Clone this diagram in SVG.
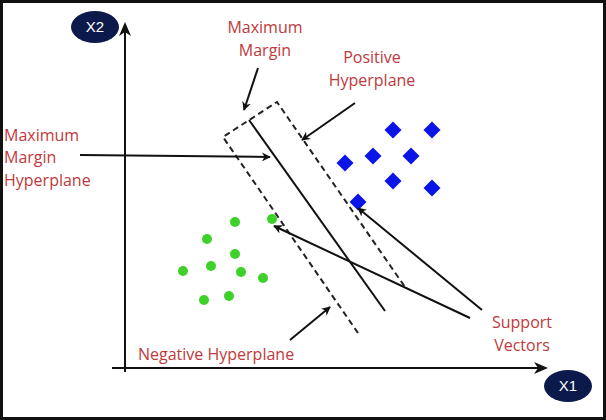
<svg xmlns="http://www.w3.org/2000/svg" width="606" height="420" viewBox="0 0 606 420">
<defs>
<marker id="ah" viewBox="0 0 10 10" refX="9" refY="5" markerWidth="9" markerHeight="9" markerUnits="userSpaceOnUse" orient="auto"><path d="M0,0 L10,5 L0,10 L3,5 z" fill="#111"/></marker>
<style>
.t{font-family:"Open Sans","Liberation Sans",sans-serif;font-size:16px;fill:#c0393b}
.a{stroke:#111;stroke-width:2;fill:none;marker-end:url(#ah)}
.d{stroke:#222;stroke-width:2;stroke-dasharray:6,4;fill:none}
.b{fill:#0a14e6}.g{fill:#3ed12a}
</style>
</defs>
<rect x="1.5" y="1.5" width="603" height="417" fill="#fff" stroke="#111" stroke-width="3"/>
<g id="axes">
<line x1="125" y1="372" x2="125" y2="25" class="a" style="marker-end:none"/>
<path d="M125,22 L119,36 L125,32 L131,36 z" fill="#111"/>
<line x1="112" y1="368" x2="545" y2="368" stroke="#111" stroke-width="2"/>
<path d="M548,368 L534,362 L538,368 L534,374 z" fill="#111"/>
</g>
<g id="x2"><ellipse cx="95" cy="27" rx="24" ry="16" fill="#0b1a4a"/><text x="95" y="32" text-anchor="middle" font-family="Liberation Sans,sans-serif" font-size="15" fill="#fff">X2</text></g>
<g id="x1"><ellipse cx="568" cy="386" rx="24" ry="16" fill="#0b1a4a"/><text x="568" y="391" text-anchor="middle" font-family="Liberation Sans,sans-serif" font-size="15" fill="#fff">X1</text></g>
<g id="margin">
<path class="d" d="M358,333 L223,137 L277,102 L405,287"/>
<line x1="249" y1="120" x2="385" y2="311" stroke="#111" stroke-width="2"/>
</g>
<g id="points">
<g class="b">
<rect x="-6" y="-6" width="12" height="12" transform="translate(393,130) rotate(45)"/>
<rect x="-6" y="-6" width="12" height="12" transform="translate(432,130) rotate(45)"/>
<rect x="-6" y="-6" width="12" height="12" transform="translate(373,156) rotate(45)"/>
<rect x="-6" y="-6" width="12" height="12" transform="translate(411,156) rotate(45)"/>
<rect x="-6" y="-6" width="12" height="12" transform="translate(345,163) rotate(45)"/>
<rect x="-6" y="-6" width="12" height="12" transform="translate(393,181) rotate(45)"/>
<rect x="-6" y="-6" width="12" height="12" transform="translate(432,188) rotate(45)"/>
<rect x="-6" y="-6" width="12" height="12" transform="translate(358,202) rotate(45)"/>
</g>
<g class="g">
<circle cx="235" cy="222" r="5"/><circle cx="272" cy="219" r="5"/><circle cx="207" cy="239" r="5"/><circle cx="235" cy="254" r="5"/><circle cx="183" cy="271" r="5"/><circle cx="211" cy="266" r="5"/><circle cx="241" cy="272" r="5"/><circle cx="263" cy="278" r="5"/><circle cx="204" cy="300" r="5"/><circle cx="229" cy="296" r="5"/>
</g>
</g>
<g id="connectors">
<line x1="258" y1="68" x2="244" y2="110" class="a"/>
<line x1="355" y1="103" x2="302" y2="140" class="a"/>
<line x1="80" y1="155" x2="270" y2="157" class="a"/>
<line x1="470" y1="318" x2="274" y2="226" class="a"/>
<line x1="482" y1="310" x2="358" y2="208" class="a"/>
<line x1="290" y1="340" x2="330" y2="307" class="a"/>
</g>
<g id="labels">
<text class="t" x="265" y="33" text-anchor="middle">Maximum</text>
<text class="t" x="265" y="56" text-anchor="middle">Margin</text>
<text class="t" x="372" y="63" text-anchor="middle">Positive</text>
<text class="t" x="372" y="86" text-anchor="middle">Hyperplane</text>
<text class="t" x="4" y="141">Maximum</text>
<text class="t" x="4" y="163">Margin</text>
<text class="t" x="4" y="186">Hyperplane</text>
<text class="t" x="138" y="360">Negative Hyperplane</text>
<text class="t" x="522" y="328" text-anchor="middle">Support</text>
<text class="t" x="522" y="351" text-anchor="middle">Vectors</text>
</g>
</svg>
